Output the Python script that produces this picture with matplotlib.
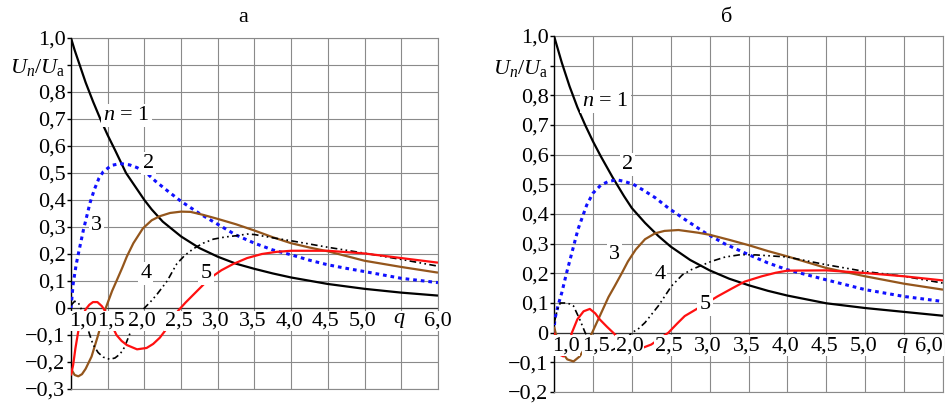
import matplotlib
matplotlib.use("Agg")
import matplotlib.pyplot as plt

plt.rcParams['font.family'] = ['Liberation Serif', 'DejaVu Serif']
plt.rcParams['mathtext.fontset'] = 'custom'
plt.rcParams['mathtext.rm'] = 'Liberation Serif'
plt.rcParams['mathtext.it'] = 'Liberation Serif:italic'

# ---- panel а ----
q1_a = [1.0, 1.05, 1.1, 1.2, 1.3, 1.4, 1.5, 1.6, 1.75, 1.9, 2.0, 2.1, 2.25, 2.5, 2.75, 3.0, 3.25, 3.5, 3.75, 4.0, 4.5, 5.0, 5.5, 6.0]
u1_a = [1.0, 0.955, 0.915, 0.835, 0.765, 0.70, 0.64, 0.585, 0.50, 0.44, 0.40, 0.365, 0.32, 0.265, 0.222, 0.19, 0.164, 0.145, 0.128, 0.113, 0.089, 0.071, 0.057, 0.046]

q2_a = [1.0, 1.03, 1.07, 1.1, 1.17, 1.26, 1.32, 1.38, 1.44, 1.55, 1.67, 1.8, 1.9, 2.03, 2.15, 2.31, 2.5, 2.75, 3.0, 3.25, 3.5, 3.75, 4.0, 4.25, 4.5, 4.75, 5.0, 5.5, 6.0]
u2_a = [0.0, 0.09, 0.16, 0.20, 0.29, 0.39, 0.44, 0.48, 0.505, 0.528, 0.535, 0.53, 0.52, 0.50, 0.47, 0.435, 0.395, 0.35, 0.31, 0.27, 0.24, 0.215, 0.197, 0.177, 0.16, 0.147, 0.135, 0.11, 0.094]

q3_a = [1.0, 1.05, 1.1, 1.15, 1.2, 1.28, 1.37, 1.46, 1.56, 1.62, 1.7, 1.76, 1.85, 1.98, 2.1, 2.21, 2.35, 2.5, 2.63, 2.8, 3.0, 3.25, 3.5, 3.75, 4.0, 4.25, 4.5, 5.0, 5.5, 6.0]
u3_a = [-0.225, -0.248, -0.253, -0.245, -0.225, -0.18, -0.10, -0.01, 0.063, 0.10, 0.15, 0.19, 0.24, 0.295, 0.325, 0.34, 0.352, 0.357, 0.356, 0.345, 0.33, 0.31, 0.287, 0.262, 0.24, 0.224, 0.21, 0.175, 0.152, 0.131]

q4_a = [1.0, 1.05, 1.1, 1.15, 1.2, 1.25, 1.3, 1.37, 1.44, 1.53, 1.6, 1.67, 1.73, 1.78, 1.84, 1.9, 2.0, 2.08, 2.17, 2.31, 2.44, 2.55, 2.67, 2.8, 2.94, 3.1, 3.26, 3.4, 3.5, 3.75, 4.0, 4.5, 5.0, 5.5, 6.0]
u4_a = [0.01, 0.025, 0.02, -0.01, -0.05, -0.095, -0.135, -0.165, -0.182, -0.19, -0.185, -0.17, -0.145, -0.11, -0.07, -0.035, 0.0, 0.022, 0.05, 0.10, 0.163, 0.195, 0.22, 0.24, 0.255, 0.263, 0.268, 0.274, 0.272, 0.26, 0.249, 0.225, 0.203, 0.18, 0.155]

q5_a = [1.0, 1.03, 1.06, 1.1, 1.15, 1.2, 1.25, 1.3, 1.36, 1.42, 1.49, 1.55, 1.62, 1.69, 1.76, 1.9, 2.03, 2.12, 2.21, 2.35, 2.46, 2.56, 2.67, 2.78, 2.89, 3.05, 3.21, 3.4, 3.6, 3.8, 4.0, 4.5, 5.0, 5.5, 6.0]
u5_a = [-0.25, -0.21, -0.15, -0.085, -0.035, -0.005, 0.012, 0.022, 0.022, 0.007, -0.02, -0.06, -0.10, -0.122, -0.137, -0.153, -0.148, -0.133, -0.11, -0.06, -0.01, 0.02, 0.05, 0.08, 0.11, 0.14, 0.163, 0.185, 0.20, 0.208, 0.212, 0.212, 0.202, 0.185, 0.168]

# ---- panel б ----
q1_b = [1.0, 1.1, 1.2, 1.3, 1.4, 1.5, 1.6, 1.75, 1.9, 2.0, 2.17, 2.34, 2.5, 2.75, 3.0, 3.25, 3.5, 3.75, 4.0, 4.5, 5.0, 5.5, 6.0]
u1_b = [1.0, 0.91, 0.83, 0.76, 0.70, 0.645, 0.595, 0.525, 0.46, 0.42, 0.37, 0.326, 0.29, 0.245, 0.21, 0.182, 0.16, 0.141, 0.125, 0.099, 0.083, 0.07, 0.057]

q2_b = [1.0, 1.01, 1.05, 1.1, 1.16, 1.23, 1.31, 1.42, 1.5, 1.6, 1.7, 1.81, 1.9, 2.02, 2.15, 2.3, 2.47, 2.68, 2.94, 3.19, 3.5, 3.75, 4.0, 4.5, 5.0, 5.5, 6.0]
u2_b = [0.0, 0.045, 0.09, 0.135, 0.20, 0.27, 0.35, 0.43, 0.47, 0.497, 0.51, 0.515, 0.51, 0.50, 0.48, 0.455, 0.42, 0.382, 0.337, 0.30, 0.263, 0.235, 0.212, 0.178, 0.145, 0.122, 0.105]

q3_b = [1.0, 1.05, 1.1, 1.17, 1.25, 1.33, 1.4, 1.49, 1.56, 1.63, 1.7, 1.78, 1.87, 1.95, 2.05, 2.17, 2.3, 2.42, 2.6, 2.85, 3.0, 3.25, 3.5, 3.75, 4.0, 4.5, 5.0, 5.5, 6.0]
u3_b = [0.02, -0.03, -0.065, -0.09, -0.097, -0.08, -0.05, 0.0, 0.04, 0.08, 0.12, 0.157, 0.20, 0.24, 0.28, 0.315, 0.335, 0.343, 0.346, 0.337, 0.33, 0.313, 0.295, 0.275, 0.257, 0.218, 0.19, 0.165, 0.145]

q4_b = [1.0, 1.04, 1.08, 1.14, 1.2, 1.25, 1.33, 1.4, 1.48, 1.55, 1.7, 1.85, 2.0, 2.08, 2.17, 2.34, 2.51, 2.65, 2.77, 3.02, 3.2, 3.4, 3.6, 4.0, 4.5, 5.0, 5.5, 6.0]
u4_b = [0.03, 0.075, 0.10, 0.10, 0.097, 0.09, 0.045, 0.0, -0.035, -0.055, -0.065, -0.045, 0.0, 0.012, 0.034, 0.09, 0.157, 0.195, 0.213, 0.24, 0.255, 0.263, 0.262, 0.255, 0.229, 0.206, 0.19, 0.167]

q5_b = [1.0, 1.04, 1.08, 1.12, 1.17, 1.23, 1.3, 1.38, 1.46, 1.53, 1.59, 1.68, 1.76, 1.85, 1.95, 2.1, 2.25, 2.36, 2.47, 2.58, 2.68, 2.9, 3.1, 3.28, 3.45, 3.67, 3.85, 4.0, 4.5, 5.0, 5.5, 6.0]
u5_b = [0.0, -0.05, -0.075, -0.08, -0.055, 0.0, 0.045, 0.072, 0.08, 0.065, 0.044, 0.02, 0.0, -0.025, -0.045, -0.055, -0.04, -0.02, 0.0, 0.03, 0.056, 0.09, 0.122, 0.148, 0.172, 0.19, 0.202, 0.209, 0.21, 0.201, 0.19, 0.176]

x_ticks = [1.0, 1.5, 2.0, 2.5, 3.0, 3.5, 4.0, 4.5, 5.0, 5.5, 6.0]
x_labels = ['1,0', '1,5', '2,0', '2,5', '3,0', '3,5', '4,0', '4,5', '5,0', '$q$', '6,0']
y_ticks_a = [-0.3, -0.2, -0.1, 0.0, 0.1, 0.2, 0.3, 0.4, 0.5, 0.6, 0.7, 0.8, 0.9, 1.0]
y_ticks_b = [-0.2, -0.1, 0.0, 0.1, 0.2, 0.3, 0.4, 0.5, 0.6, 0.7, 0.8, 0.9, 1.0]
curve_names = ['$n$ = 1', '2', '3', '4', '5']

styles = [
    dict(color='black', lw=1.6, ls='-'),
    dict(color='#1010ff', lw=2.2, ls=(0, (1.2, 1.3))),
    dict(color='#94561c', lw=1.6, ls='-'),
    dict(color='black', lw=1.2, ls=(0, (4, 2, 1, 2, 1, 2))),
    dict(color='#ff1010', lw=1.6, ls='-'),
]
FS = 16


def ylab(v):
    if abs(v) < 1e-9:
        return '0'
    if abs(v - 0.9) < 1e-9:
        return r'$U_n/U_{\rm a}$'
    s = f'{abs(v):.1f}'.replace('.', ',')
    return ('\u2212' + s) if v < 0 else s


def panel(ax, curves, yticks, label_pos, last_ha):
    ax.set_xlim(1.0, 6.0)
    ax.set_ylim(yticks[0], 1.0)
    ax.set_xticks(x_ticks)
    ax.set_yticks(yticks)
    ax.set_yticklabels([ylab(v) for v in yticks])
    ax.tick_params(axis='x', length=0, labelbottom=False)
    ax.tick_params(axis='y', direction='out', length=3, width=1, pad=1, labelsize=FS)
    ax.grid(True, color='#8a8a8a', lw=0.8)
    ax.set_axisbelow(True)
    for s in ['top', 'right', 'bottom']:
        ax.spines[s].set_color('#8a8a8a')
        ax.spines[s].set_linewidth(0.8)
    ax.spines['left'].set_color('black')
    ax.spines['left'].set_linewidth(1.0)
    ax.axhline(0, color='#333333', lw=0.9, zorder=2)

    for (q, u), st in zip(curves, styles):
        ax.plot(q, u, zorder=3, solid_capstyle='butt', **st)

    for x, s in zip(x_ticks, x_labels):
        ha = 'center'
        dx = -1.5
        if x == 1.0:
            dx = 8.5
        elif x == 1.5:
            dx = 2.5
        elif x == 6.0:
            ha = last_ha
            dx = 0
        ax.annotate(s, (x, 0), xytext=(dx, -2.5), textcoords='offset points',
                    ha=ha, va='top', fontsize=FS, zorder=5,
                    bbox=dict(fc='white', ec='none', pad=0.4))

    for name, (x, y) in zip(curve_names, label_pos):
        ax.text(x, y, name, ha='center', va='center', fontsize=FS, zorder=5,
                bbox=dict(fc='white', ec='none', pad=1.5))


fig = plt.figure(figsize=(9.49, 4.03), dpi=100)
ax_a = fig.add_axes([0.0748, 0.0347, 0.3867, 0.871])
ax_b = fig.add_axes([0.5838, 0.0273, 0.4099, 0.8834])

panel(ax_a,
      [(q1_a, u1_a), (q2_a, u2_a), (q3_a, u3_a), (q4_a, u4_a), (q5_a, u5_a)],
      y_ticks_a,
      [(1.76, 0.714), (2.06, 0.535), (1.35, 0.305), (2.02, 0.126), (2.84, 0.126)],
      'center')
panel(ax_b,
      [(q1_b, u1_b), (q2_b, u2_b), (q3_b, u3_b), (q4_b, u4_b), (q5_b, u5_b)],
      y_ticks_b,
      [(1.66, 0.778), (1.94, 0.566), (1.78, 0.263), (2.36, 0.195), (2.94, 0.094)],
      'right')

fig.text(243 / 949, 1 - 18 / 403, 'а', ha='center', va='center', fontsize=FS)
fig.text(727 / 949, 1 - 17 / 403, 'б', ha='center', va='center', fontsize=FS)

fig.savefig('out.png', dpi=100)
